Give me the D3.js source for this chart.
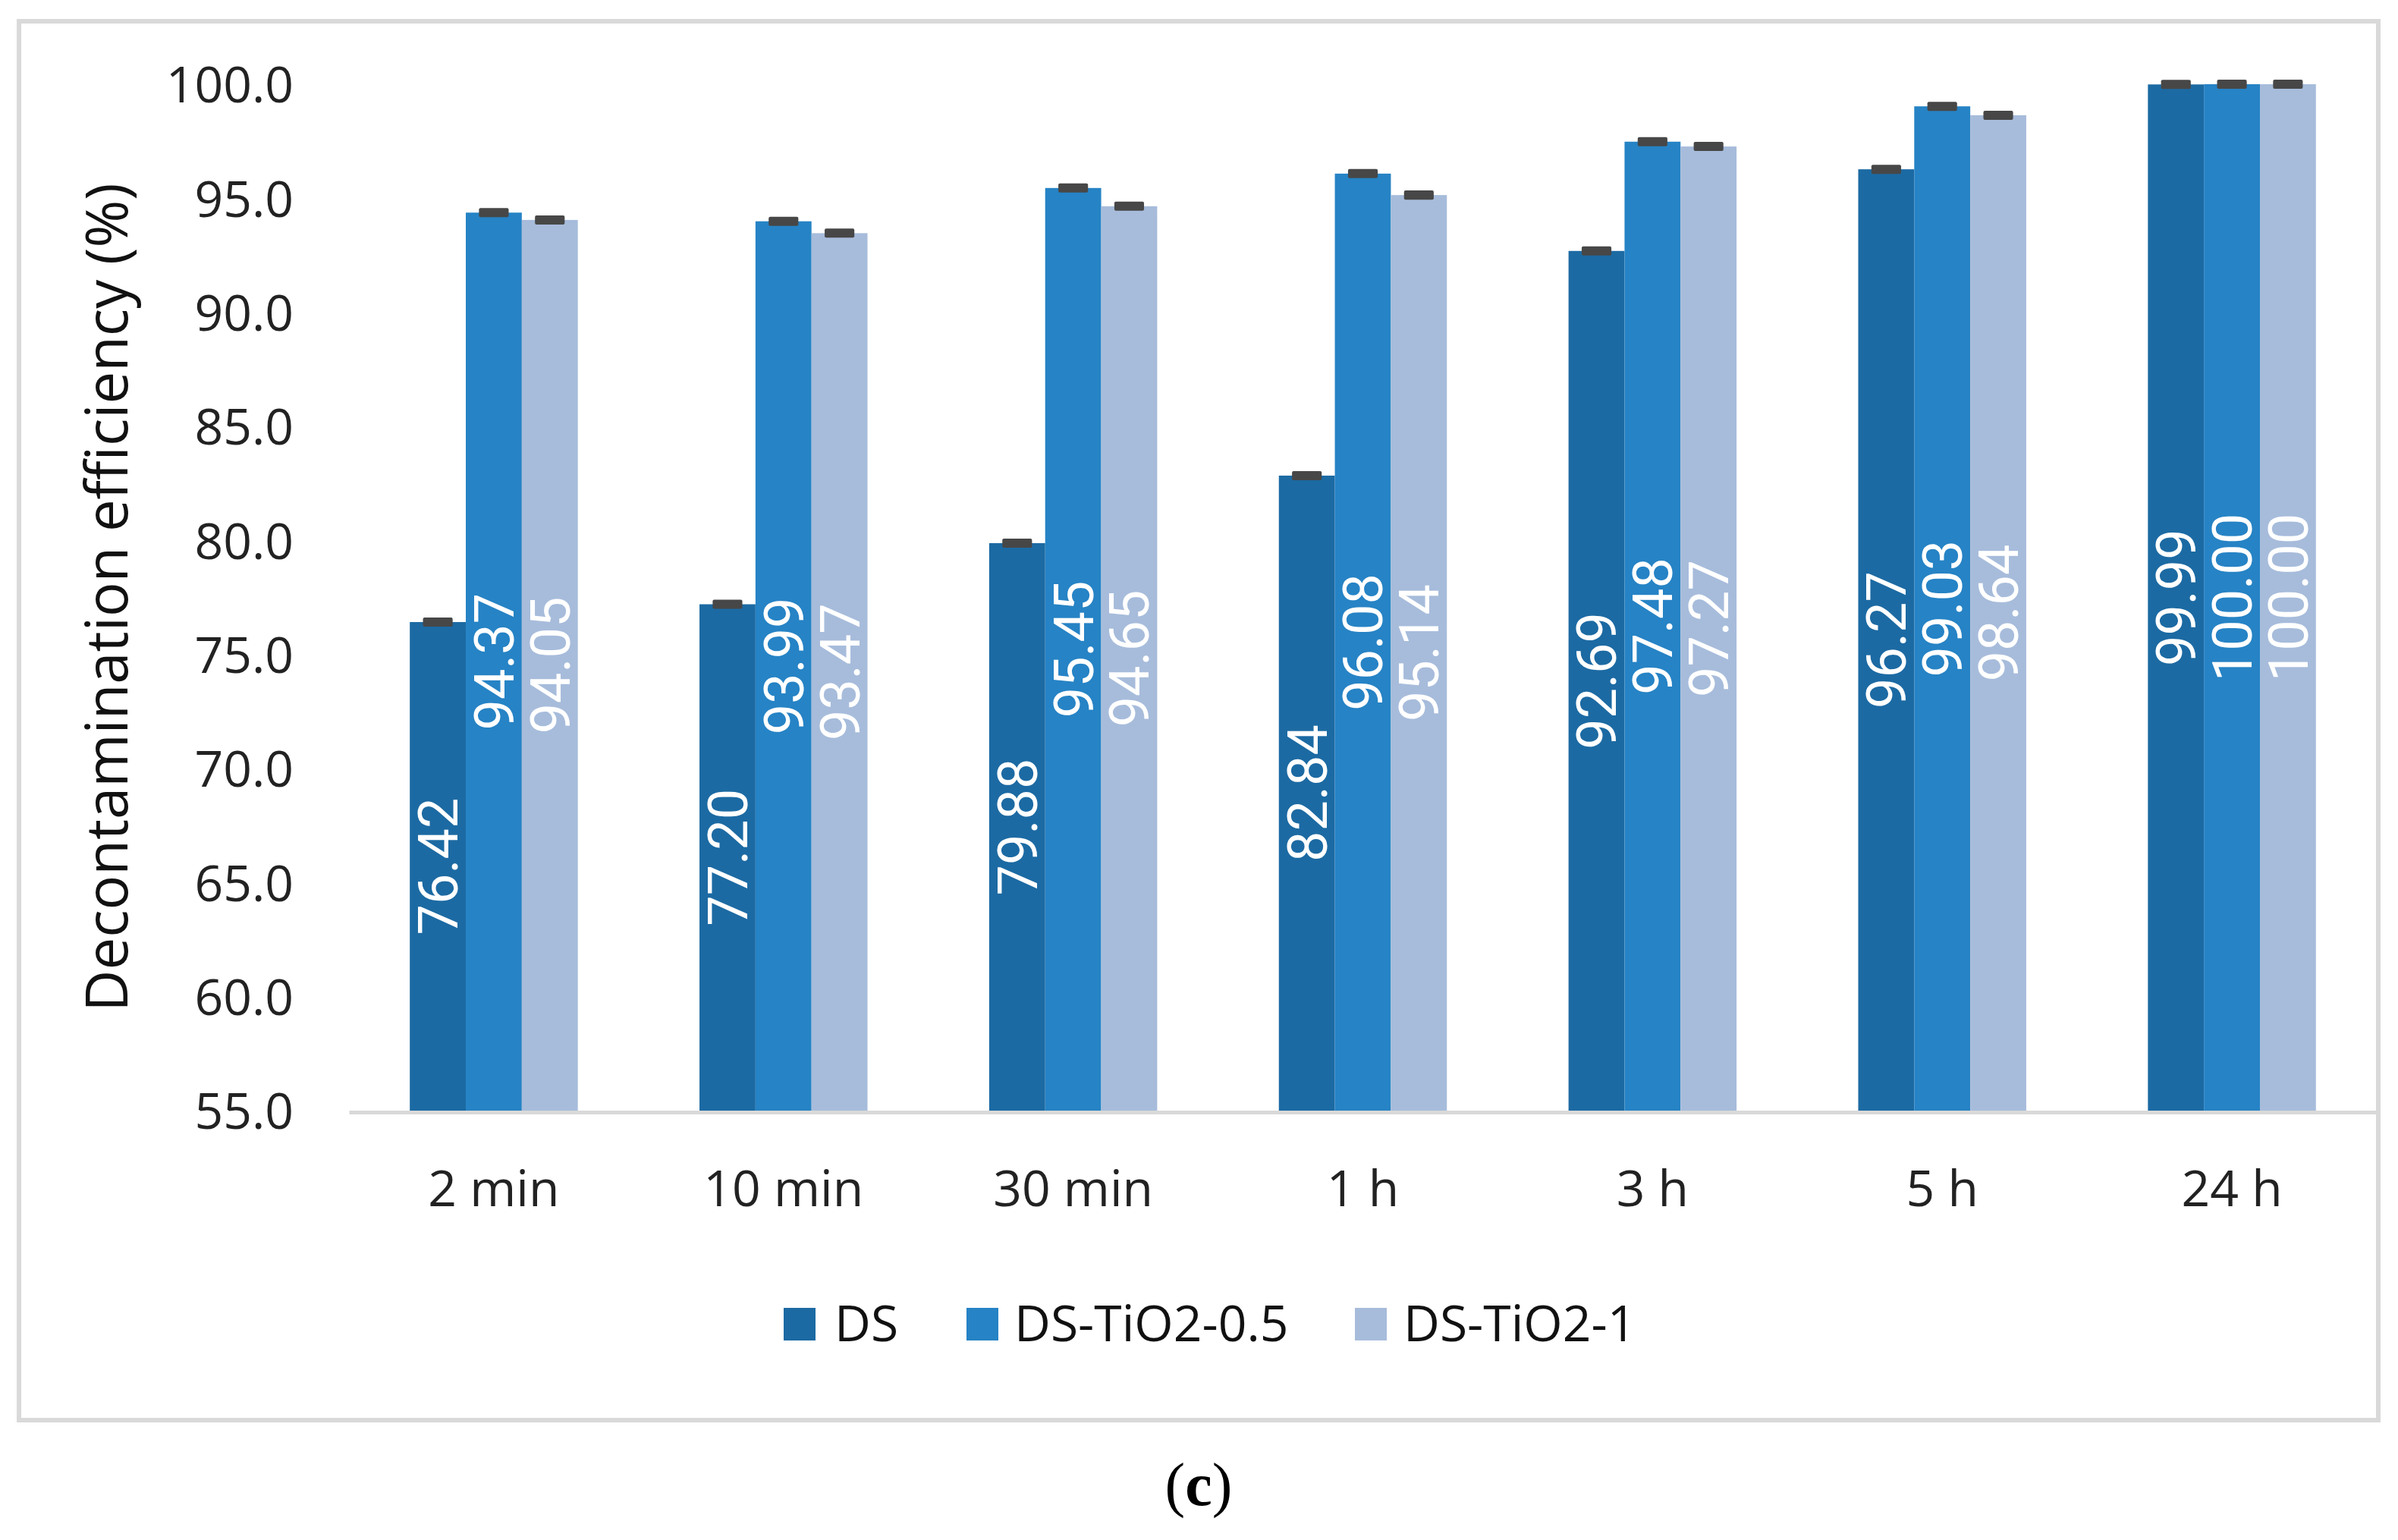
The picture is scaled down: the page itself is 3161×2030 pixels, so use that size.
<!DOCTYPE html>
<html>
<head>
<meta charset="utf-8">
<script src="https://cdn.jsdelivr.net/npm/d3@7"></script>
<style>
  html, body { margin: 0; padding: 0; background: #ffffff; }
  svg { display: block; }
</style>
</head>
<body>
<svg id="chart" width="3161" height="2030"></svg>
<script>
// ---- data ----
const categories = ["2 min", "10 min", "30 min", "1 h", "3 h", "5 h", "24 h"];
const seriesNames = ["DS", "DS-TiO2-0.5", "DS-TiO2-1"];
const dsValues     = [76.42, 77.20, 79.88, 82.84, 92.69, 96.27, 99.99];
const tio05Values  = [94.37, 93.99, 95.45, 96.08, 97.48, 99.03, 100.00];
const tio1Values   = [94.05, 93.47, 94.65, 95.14, 97.27, 98.64, 100.00];
const dsErrors     = [0.2, 0.2, 0.2, 0.2, 0.2, 0.2, 0.2];
const tio05Errors  = [0.2, 0.2, 0.2, 0.2, 0.2, 0.2, 0.2];
const tio1Errors   = [0.2, 0.2, 0.2, 0.2, 0.2, 0.2, 0.2];
const yTicks = [55, 60, 65, 70, 75, 80, 85, 90, 95, 100];
const yTitle = "Decontamination efficiency (%)";
const caption = "c";

// ---- styles ----
const colors = ["#1c6aa3", "#2683c5", "#a7bcdb"];
const seriesValues = [dsValues, tio05Values, tio1Values];
const seriesErrors = [dsErrors, tio05Errors, tio1Errors];
const font = "'Open Sans', 'Noto Sans', sans-serif";

const svg = d3.select("#chart");

// outer frame
svg.append("rect")
  .attr("x", 25).attr("y", 28)
  .attr("width", 3110).attr("height", 1844)
  .attr("fill", "#ffffff")
  .attr("stroke", "#d9d9d9").attr("stroke-width", 6);

const plot = { left: 460, right: 3133, top: 111, bottom: 1464 };

const y = d3.scaleLinear().domain([55, 100]).range([plot.bottom, plot.top]);
const x0 = d3.scaleBand().domain(categories).range([plot.left, plot.right]).padding(0);
const groupW = x0.bandwidth() * 0.58;
const x1 = d3.scaleBand().domain(seriesNames).range([0, groupW]).padding(0);

// y axis (labels only)
const yAxis = d3.axisLeft(y).tickValues(yTicks).tickFormat(d3.format(".1f")).tickSize(0).tickPadding(0);
const yg = svg.append("g").attr("transform", `translate(387,0)`).call(yAxis);
yg.select(".domain").remove();
yg.selectAll("text")
  .attr("font-family", font).attr("font-size", 66).attr("fill", "#222222")
  .attr("dy", "0.36em");

// bars
const flat = [];
categories.forEach((c, i) => {
  seriesNames.forEach((s, j) => {
    flat.push({ c, s, j, v: seriesValues[j][i], e: seriesErrors[j][i] });
  });
});

const gx = (d) => x0(d.c) + (x0.bandwidth() - groupW) / 2 + x1(d.s);

svg.append("g").selectAll("rect.bar").data(flat).join("rect")
  .attr("class", "bar")
  .attr("x", d => gx(d))
  .attr("y", d => y(d.v))
  .attr("width", x1.bandwidth())
  .attr("height", d => y(55) - y(d.v))
  .attr("fill", d => colors[d.j]);

// x axis line
const xAxis = d3.axisBottom(x0).tickSize(0).tickPadding(0);
const xg = svg.append("g").attr("transform", `translate(0,${plot.bottom + 2})`).call(xAxis);
xg.select(".domain").attr("stroke", "#d9d9d9").attr("stroke-width", 5);
xg.selectAll("text")
  .attr("font-family", font).attr("font-size", 66).attr("fill", "#222222")
  .attr("y", 0).attr("dy", 124);

// error bars
const capW = x1.bandwidth() * 0.53;
svg.append("g").selectAll("rect.err").data(flat).join("rect")
  .attr("class", "err")
  .attr("x", d => gx(d) + (x1.bandwidth() - capW) / 2)
  .attr("y", d => y(d.v + d.e))
  .attr("width", capW)
  .attr("height", d => y(d.v - d.e) - y(d.v + d.e))
  .attr("rx", 2)
  .attr("fill", "#474747");

// data labels (rotated, centered in bar)
svg.append("g").selectAll("text.lbl").data(flat).join("text")
  .attr("class", "lbl")
  .attr("transform", d => {
    const cx = gx(d) + x1.bandwidth() / 2;
    const cy = (y(d.v) + y(55)) / 2;
    return `translate(${cx},${cy}) rotate(-90)`;
  })
  .attr("text-anchor", "middle")
  .attr("dy", "0.36em")
  .attr("font-family", "Roboto, 'Open Sans', sans-serif")
  .attr("font-size", 72)
  .attr("fill", "#ffffff")
  .text(d => d.v.toFixed(2));

// y title
svg.append("text")
  .attr("transform", `translate(141,${(plot.top + plot.bottom) / 2}) rotate(-90)`)
  .attr("text-anchor", "middle")
  .attr("dy", "0.36em")
  .attr("font-family", font).attr("font-size", 76).attr("fill", "#111111")
  .text(yTitle);

// legend
const legendItems = [
  { name: seriesNames[0], sx: 1033, tx: 1100 },
  { name: seriesNames[1], sx: 1274, tx: 1337 },
  { name: seriesNames[2], sx: 1786, tx: 1850 }
];
const lg = svg.append("g");
legendItems.forEach((it, i) => {
  lg.append("rect").attr("x", it.sx).attr("y", 1724).attr("width", 42).attr("height", 43).attr("fill", colors[i]);
  lg.append("text").attr("x", it.tx).attr("y", 1768)
    .attr("font-family", font).attr("font-size", 66).attr("fill", "#111111")
    .text(it.name);
});

// caption
const cap = svg.append("text")
  .attr("x", 1580).attr("y", 1984)
  .attr("text-anchor", "middle")
  .attr("font-family", "'Liberation Serif', 'Times New Roman', serif")
  .attr("font-size", 80).attr("fill", "#000000");
cap.append("tspan").text("(");
cap.append("tspan").attr("font-weight", "bold").text(caption);
cap.append("tspan").text(")");
</script>
</body>
</html>
